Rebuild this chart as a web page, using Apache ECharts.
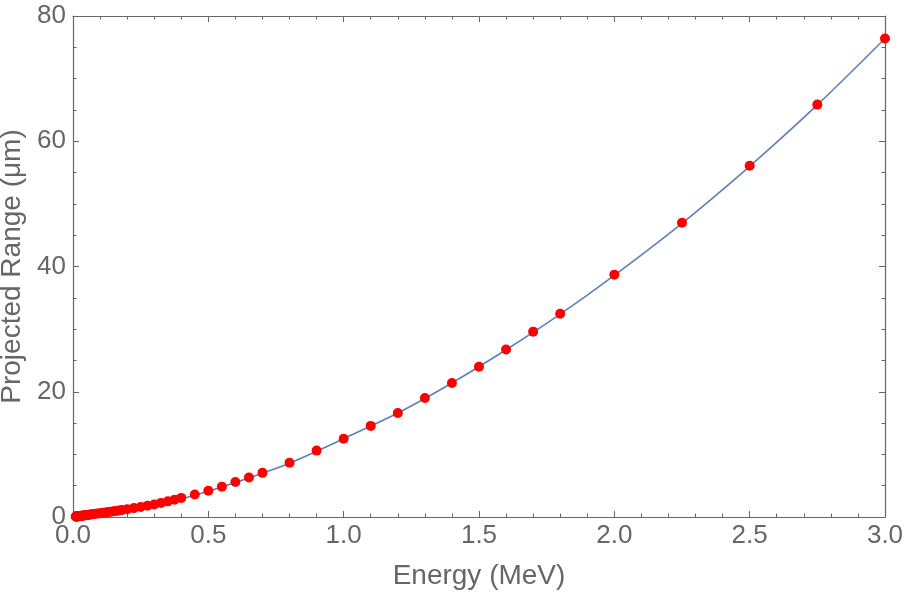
<!DOCTYPE html>
<html>
<head>
<meta charset="utf-8">
<script src="https://cdn.jsdelivr.net/npm/echarts@6/dist/echarts.min.js"></script>
<style>
  html, body { margin: 0; padding: 0; background: #ffffff; }
  #chart { width: 904px; height: 593px; }
</style>
</head>
<body>
<div id="chart"></div>
<script>
// SRIM-style energy table (MeV) and projected range (um)
const energies = [
  0.01, 0.011, 0.012, 0.013, 0.014, 0.015, 0.016, 0.017, 0.018, 0.02,
  0.0225, 0.025, 0.0275, 0.03, 0.0325, 0.035, 0.0375, 0.04, 0.045, 0.05,
  0.055, 0.06, 0.065, 0.07, 0.08, 0.09, 0.1, 0.11, 0.12, 0.13,
  0.14, 0.15, 0.16, 0.17, 0.18, 0.2, 0.225, 0.25, 0.275, 0.3,
  0.325, 0.35, 0.375, 0.4, 0.45, 0.5, 0.55, 0.6, 0.65, 0.7,
  0.8, 0.9, 1.0, 1.1, 1.2, 1.3, 1.4, 1.5, 1.6, 1.7,
  1.8, 2.0, 2.25, 2.5, 2.75, 3.0
];
const ranges = [
  0.07, 0.075, 0.08, 0.085, 0.09, 0.095, 0.10, 0.105, 0.11, 0.12,
  0.135, 0.15, 0.165, 0.18, 0.195, 0.21, 0.225, 0.24, 0.27, 0.30,
  0.33, 0.36, 0.39, 0.42, 0.48, 0.54, 0.60, 0.66, 0.72, 0.78,
  0.84, 0.91, 0.97, 1.04, 1.10, 1.24, 1.42, 1.60, 1.80, 2.00,
  2.25, 2.5, 2.75, 3.05, 3.6, 4.2, 4.85, 5.6, 6.3, 7.05,
  8.65, 10.6, 12.5, 14.55, 16.6, 19.0, 21.4, 24.0, 26.75, 29.6,
  32.45, 38.7, 47.0, 56.1, 65.85, 76.4
];

// fitted curve
const curveE = [0, 0.1, 0.2, 0.3, 0.4, 0.5, 0.6, 0.7, 0.8, 0.9, 1.0, 1.2, 1.4, 1.6, 1.8, 2.0, 2.25, 2.5, 2.75, 3.0];
const curveR = [0, 0.5, 1.15, 1.95, 2.9, 4.1, 5.5, 7.0, 8.6, 10.5, 12.5, 16.6, 21.4, 26.7, 32.4, 38.6, 46.9, 56.0, 65.8, 76.4];

const xTicks = ['0.0', '0.5', '1.0', '1.5', '2.0', '2.5', '3.0'];

const gray = '#666666';
const font = '"Liberation Sans", Arial, sans-serif';

const chart = echarts.init(document.getElementById('chart'), null, { renderer: 'canvas' });

const frameAxis = {
  axisLine: { show: true, onZero: false, lineStyle: { color: gray, width: 1.2 } },
  axisTick: { show: true, inside: true, length: 6, lineStyle: { color: gray, width: 1 } },
  minorTick: { show: true, length: 3.5, lineStyle: { color: gray, width: 1 } },
  splitLine: { show: false },
  minorSplitLine: { show: false }
};

function xAxis(pos, withLabels) {
  return Object.assign({}, frameAxis, {
    type: 'value',
    position: pos,
    min: 0,
    max: 3,
    interval: 0.5,
    minorTick: Object.assign({}, frameAxis.minorTick, { splitNumber: 5 }),
    axisLabel: {
      show: withLabels,
      color: gray,
      fontFamily: font,
      fontSize: 26,
      margin: 6,
      formatter: v => xTicks[Math.round(v / 0.5)]
    },
    name: withLabels ? 'Energy (MeV)' : '',
    nameLocation: 'middle',
    nameGap: 45,
    nameTextStyle: { color: gray, fontFamily: font, fontSize: 28 }
  });
}

function yAxis(pos, withLabels) {
  return Object.assign({}, frameAxis, {
    type: 'value',
    position: pos,
    min: 0,
    max: 80,
    interval: 20,
    minorTick: Object.assign({}, frameAxis.minorTick, { splitNumber: 4 }),
    axisLabel: {
      show: withLabels,
      color: gray,
      fontFamily: font,
      fontSize: 26,
      margin: 7
    },
    name: withLabels ? 'Projected Range (μm)' : '',
    nameLocation: 'middle',
    nameGap: 44,
    nameTextStyle: { color: gray, fontFamily: font, fontSize: 28 }
  });
}

chart.setOption({
  backgroundColor: '#ffffff',
  animation: false,
  grid: { left: 73, right: 19, top: 16, bottom: 76, outerBoundsMode: 'none' },
  xAxis: [xAxis('bottom', true), xAxis('top', false)],
  yAxis: [yAxis('left', true), yAxis('right', false)],
  series: [
    {
      type: 'line',
      data: curveE.map((e, i) => [e, curveR[i]]),
      smooth: 0.3,
      showSymbol: false,
      lineStyle: { color: '#5E81B5', width: 1.6 },
      z: 2
    },
    {
      type: 'scatter',
      data: energies.map((e, i) => [e, ranges[i]]),
      symbol: 'circle',
      symbolSize: 10,
      itemStyle: { color: '#ff0000', opacity: 1 },
      z: 3
    }
  ]
});
</script>
</body>
</html>
